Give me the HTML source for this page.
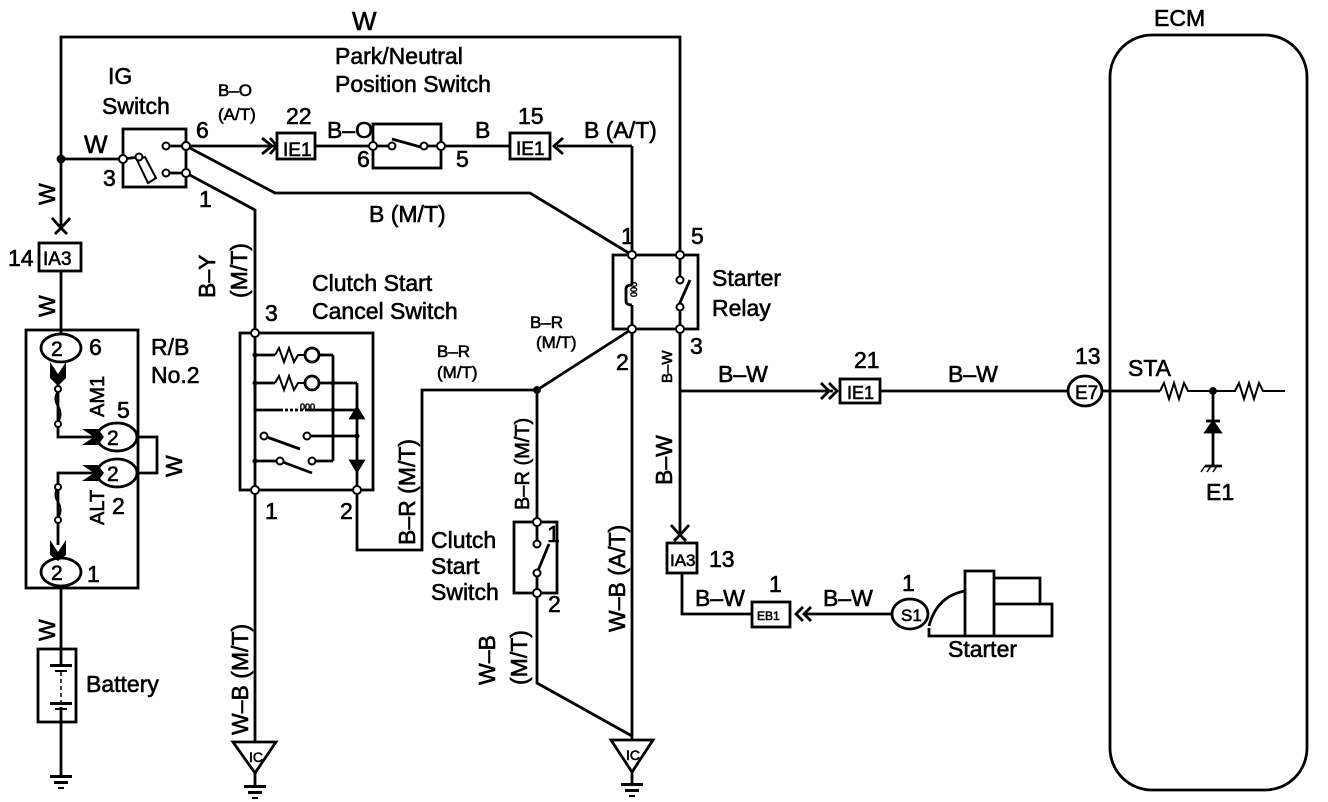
<!DOCTYPE html>
<html><head><meta charset="utf-8"><style>
html,body{margin:0;padding:0;background:#fff}
svg{display:block}
text{font-family:"Liberation Sans",sans-serif;fill:#000;stroke:#000;stroke-width:0.6}
</style></head><body>
<svg width="1328" height="802" viewBox="0 0 1328 802" xmlns="http://www.w3.org/2000/svg">
<g fill="none" stroke="#000" stroke-width="2.8" stroke-linejoin="miter">
<polyline points="61,228 61,37 680,37 680,255"/>
<line x1="61" y1="159" x2="123" y2="159"/>
<circle cx="61" cy="159" r="3" fill="#000"/>
<polyline points="52,218 61,228 70,218"/>
<line x1="55" y1="234" x2="61" y2="228"/><line x1="67" y1="234" x2="61" y2="228"/>
<rect x="39" y="243" width="42" height="28"/>
<line x1="61" y1="271" x2="61" y2="333"/>
<rect x="123" y="129" width="63" height="58"/>
<line x1="186" y1="146" x2="166" y2="146"/>
<line x1="186" y1="173" x2="166" y2="173"/>
<line x1="123" y1="159" x2="139" y2="157"/>
<polygon points="137,160 145,157 156,178 148,183" stroke-width="2"/>
<line x1="186" y1="146" x2="276" y2="146"/>
<polyline points="262,138 272,146 262,154"/>
<line x1="270" y1="138" x2="277" y2="146"/><line x1="270" y1="154" x2="277" y2="146"/>
<rect x="277" y="133" width="38" height="26"/>
<line x1="315" y1="146" x2="373" y2="146"/>
<rect x="373" y="124" width="68" height="44"/>
<line x1="373" y1="146" x2="392" y2="146"/>
<line x1="392" y1="139" x2="424" y2="148"/>
<line x1="424" y1="146" x2="441" y2="146"/>
<line x1="441" y1="146" x2="510" y2="146"/>
<rect x="510" y="133" width="40" height="26"/>
<polyline points="563,138 554,146 563,154"/>
<line x1="557" y1="146" x2="632" y2="146"/>
<line x1="632" y1="146" x2="632" y2="255"/>
<polyline points="186,146 275,193 530,193 632,255"/>
<polyline points="186,173 255,210 255,332"/>
<rect x="613" y="255" width="85" height="74"/>
<line x1="632" y1="255" x2="632" y2="285"/>
<line x1="632" y1="305" x2="632" y2="329"/>
<path d="M632,285 q-6,0 -6,4 v12 q0,4 6,4" />
<line x1="680" y1="255" x2="680" y2="280"/>
<line x1="678" y1="307" x2="690" y2="280"/>
<line x1="680" y1="307" x2="680" y2="329"/>
<line x1="632" y1="329" x2="632" y2="740"/>
<line x1="680" y1="329" x2="680" y2="535"/>
<polyline points="671,525 680,535 689,525"/>
<line x1="674" y1="541" x2="680" y2="535"/><line x1="686" y1="541" x2="680" y2="535"/>
<rect x="667" y="543" width="30" height="30"/>
<polyline points="682,573 682,614 752,614"/>
<rect x="752" y="602" width="38" height="25"/>
<polyline points="803,607 796,614 803,621"/><polyline points="811,607 804,614 811,621"/>
<line x1="804" y1="614" x2="893" y2="614"/>
<ellipse cx="910" cy="614" rx="18" ry="15"/>
<path d="M929,626 q8,-30 36,-35"/>
<polyline points="929,628 929,636 1052,636 1052,604 1040,604 1040,578 994,578 994,571 965,571 965,636"/>
<line x1="994" y1="578" x2="994" y2="636"/>
<line x1="994" y1="604" x2="1040" y2="604"/>
<line x1="680" y1="391" x2="833" y2="391"/>
<polyline points="821,383 829,391 821,399"/><polyline points="829,383 837,391 829,399"/>
<rect x="840" y="379" width="40" height="24"/>
<line x1="880" y1="391" x2="1068" y2="391"/>
<ellipse cx="1085" cy="391" rx="17" ry="15"/>
<rect x="1110" y="35" width="197" height="755" rx="42" ry="42"/>
<line x1="1102" y1="391" x2="1160" y2="391"/>
<polyline points="1160,391 1164,383 1169,399 1174,383 1179,399 1184,383 1188,391 1235,391 1239,383 1244,399 1249,383 1254,399 1259,383 1263,391 1285,391" stroke-width="2"/>
<circle cx="1213" cy="391" r="2.5" fill="#000"/>
<line x1="1213" y1="391" x2="1213" y2="465"/>
<polygon points="1206,432 1220,432 1213,422" fill="#000"/>
<line x1="1206" y1="421" x2="1220" y2="421"/>
<line x1="1205" y1="466" x2="1222" y2="466"/>
<line x1="1205" y1="466" x2="1201" y2="472" stroke-width="1.5"/><line x1="1211" y1="466" x2="1207" y2="472" stroke-width="1.5"/><line x1="1217" y1="466" x2="1213" y2="472" stroke-width="1.5"/>
<rect x="240" y="333" width="133" height="157"/>
<line x1="255" y1="333" x2="255" y2="742"/>
<line x1="255" y1="355" x2="275" y2="355"/>
<polyline points="275,355 279,348 284,362 289,348 294,362 298,355 305,355" stroke-width="2"/>
<circle cx="312" cy="355" r="7"/>
<line x1="319" y1="355" x2="333" y2="355"/>
<line x1="255" y1="383" x2="275" y2="383"/>
<polyline points="275,383 279,376 284,390 289,376 294,390 298,383 305,383" stroke-width="2"/>
<circle cx="312" cy="383" r="7"/>
<line x1="319" y1="383" x2="357" y2="383"/>
<polyline points="255,383 255,410 280,410"/>
<line x1="280" y1="410" x2="305" y2="410" stroke-dasharray="3,2"/>
<line x1="305" y1="410" x2="357" y2="410"/>
<line x1="333" y1="355" x2="333" y2="461"/>
<line x1="357" y1="383" x2="357" y2="490"/>
<polygon points="351,418 363,418 357,408" fill="#000"/>
<polygon points="351,461 363,461 357,471" fill="#000"/>
<line x1="264" y1="436" x2="300" y2="449"/>
<line x1="307" y1="436" x2="357" y2="436"/>
<line x1="255" y1="461" x2="277" y2="461"/>
<line x1="280" y1="461" x2="312" y2="473"/>
<line x1="312" y1="461" x2="333" y2="461"/>
<polyline points="357,490 357,550 422,550 422,390 537,390 632,329"/>
<circle cx="537" cy="390" r="2.5" fill="#000"/>
<line x1="537" y1="390" x2="537" y2="522"/>
<rect x="514" y="522" width="43" height="71"/>
<line x1="537" y1="522" x2="537" y2="544"/>
<line x1="537" y1="573" x2="549" y2="544"/>
<line x1="537" y1="573" x2="537" y2="593"/>
<polyline points="537,593 537,683 632,736"/>
<polygon points="233,742 276,742 255,773"/>
<line x1="255" y1="773" x2="255" y2="785"/>
<polygon points="611,740 653,740 632,772"/>
<line x1="632" y1="772" x2="632" y2="783"/>
<rect x="26" y="330" width="112" height="258"/>
<ellipse cx="61" cy="348" rx="20" ry="14"/>
<ellipse cx="117" cy="437" rx="20" ry="14"/>
<ellipse cx="117" cy="473" rx="20" ry="14"/>
<ellipse cx="61" cy="572" rx="20" ry="14"/>
<polyline points="137,437 157,437 157,473 137,473"/>
<polyline points="58,378 58,437 94,437"/>
<path d="M58,391 q-5,8 0,15 q5,8 0,16" stroke-width="2"/>
<polyline points="94,473 58,473 58,545"/>
<path d="M58,487 q-5,8 0,15 q5,8 0,16" stroke-width="2"/>
<line x1="61" y1="587" x2="61" y2="649"/>
<rect x="38" y="649" width="38" height="73"/>
<line x1="61" y1="649" x2="61" y2="665"/>
<line x1="61" y1="672" x2="61" y2="702" stroke-dasharray="4,3" stroke-width="1.5"/>
<line x1="61" y1="707" x2="61" y2="775"/>
</g>
<g fill="#000" stroke="none">
<g fill="#fff" stroke="#000" stroke-width="2">
<circle cx="123" cy="159" r="4"/><circle cx="186" cy="146" r="4"/><circle cx="186" cy="173" r="4"/>
<circle cx="166" cy="146" r="3.5"/><circle cx="166" cy="173" r="3.5"/><circle cx="139" cy="157" r="3.5"/>
<circle cx="373" cy="146" r="4"/><circle cx="441" cy="146" r="4"/><circle cx="392" cy="146" r="3.5"/><circle cx="424" cy="146" r="3.5"/>
<circle cx="632" cy="255" r="4"/><circle cx="680" cy="255" r="4"/><circle cx="632" cy="329" r="4"/><circle cx="680" cy="329" r="4"/>
<circle cx="680" cy="280" r="3.5"/><circle cx="680" cy="307" r="3.5"/>
<circle cx="255" cy="333" r="4"/><circle cx="255" cy="490" r="4"/><circle cx="357" cy="490" r="4"/>
<circle cx="264" cy="436" r="3.5"/><circle cx="307" cy="436" r="3.5"/><circle cx="280" cy="461" r="3.5"/><circle cx="312" cy="461" r="3.5"/>
<circle cx="537" cy="522" r="4"/><circle cx="537" cy="593" r="4"/><circle cx="537" cy="544" r="3.5"/><circle cx="537" cy="573" r="3.5"/>
<circle cx="58" cy="389" r="3"/><circle cx="58" cy="424" r="3"/><circle cx="58" cy="487" r="3"/><circle cx="58" cy="520" r="3"/>
</g>
<circle cx="255" cy="355" r="2.5"/><circle cx="255" cy="383" r="2.5"/><circle cx="333" cy="383" r="2.5"/><circle cx="333" cy="410" r="2.5"/><circle cx="357" cy="436" r="2.5"/><circle cx="255" cy="461" r="2.5"/>
<polygon points="50,362 58,374 66,362 66,378 58,386 50,378"/>
<polygon points="82,429 94,437 82,445 98,445 104,437 98,429"/>
<polygon points="82,465 94,473 82,481 98,481 104,473 98,465"/>
<polygon points="50,540 58,552 66,540 66,555 58,561 50,555"/>
<rect x="50" y="664" width="22" height="3"/><rect x="55" y="670" width="12" height="2"/>
<rect x="50" y="702" width="22" height="3"/><rect x="55" y="708" width="12" height="2"/>
<rect x="50" y="775" width="22" height="3"/><rect x="54" y="781" width="14" height="3"/><rect x="58" y="787" width="6" height="2"/>
<rect x="244" y="785" width="22" height="3"/><rect x="248" y="791" width="14" height="3"/><rect x="252" y="797" width="6" height="2"/>
<rect x="621" y="783" width="22" height="3"/><rect x="625" y="789" width="14" height="3"/><rect x="629" y="795" width="6" height="2"/>
</g>
<g font-size="23">
<text x="352" y="30" font-size="26">W</text>
<text x="1154" y="26">ECM</text>
<text x="108" y="84">IG</text>
<text x="102" y="114">Switch</text>
<text x="335" y="64">Park/Neutral</text>
<text x="335" y="92">Position Switch</text>
<text x="84" y="153" font-size="25">W</text>
<text x="103" y="186">3</text>
<text x="196" y="138">6</text>
<text x="199" y="207">1</text>
<text x="218" y="96" font-size="17">B–O</text>
<text x="218" y="120" font-size="17">(A/T)</text>
<text x="286" y="124">22</text>
<text x="327" y="138">B–O</text>
<text x="357" y="167">6</text>
<text x="456" y="167">5</text>
<text x="475" y="138">B</text>
<text x="518" y="124">15</text>
<text x="584" y="138">B  (A/T)</text>
<text x="369" y="222">B  (M/T)</text>
<text x="621" y="244">1</text>
<text x="691" y="244">5</text>
<text x="712" y="286">Starter</text>
<text x="712" y="316">Relay</text>
<text x="616" y="370">2</text>
<text x="690" y="354">3</text>
<text x="265" y="321">3</text>
<text x="312" y="291">Clutch Start</text>
<text x="312" y="319">Cancel Switch</text>
<text x="265" y="519">1</text>
<text x="340" y="519">2</text>
<text x="530" y="328" font-size="17">B–R</text>
<text x="536" y="348" font-size="17">(M/T)</text>
<text x="437" y="357" font-size="17">B–R</text>
<text x="437" y="378" font-size="17">(M/T)</text>
<text x="547" y="542">1</text>
<text x="548" y="612">2</text>
<text x="431" y="548">Clutch</text>
<text x="431" y="574">Start</text>
<text x="431" y="600">Switch</text>
<text x="8" y="266">14</text>
<text x="43" y="265" font-size="19">IA3</text>
<text x="283" y="156" font-size="19">IE1</text>
<text x="516" y="155" font-size="19">IE1</text>
<text x="847" y="399" font-size="18">IE1</text>
<text x="670" y="566" font-size="17">IA3</text>
<text x="709" y="567">13</text>
<text x="757" y="620" font-size="12">EB1</text>
<text x="769" y="592">1</text>
<text x="695" y="606">B–W</text>
<text x="823" y="606">B–W</text>
<text x="902" y="591">1</text>
<text x="901" y="621" font-size="17">S1</text>
<text x="948" y="657">Starter</text>
<text x="718" y="382">B–W</text>
<text x="854" y="368">21</text>
<text x="948" y="382">B–W</text>
<text x="1075" y="364">13</text>
<text x="1075" y="399" font-size="19">E7</text>
<text x="1128" y="376">STA</text>
<text x="1206" y="500">E1</text>
<text x="89" y="355">6</text>
<text x="117" y="418">5</text>
<text x="112" y="514">2</text>
<text x="87" y="582">1</text>
<text x="51" y="356" font-size="21">2</text>
<text x="107" y="445" font-size="21">2</text>
<text x="107" y="481" font-size="21">2</text>
<text x="51" y="580" font-size="21">2</text>
<text x="151" y="355">R/B</text>
<text x="151" y="383">No.2</text>
<text x="86" y="692">Battery</text>
<text x="249" y="762" font-size="14">IC</text>
<text x="626" y="760" font-size="14">IC</text>
</g>
<g font-size="23">
<text transform="translate(55,205) rotate(-90)">W</text>
<text transform="translate(55,317) rotate(-90)">W</text>
<text transform="translate(55,641) rotate(-90)">W</text>
<text transform="translate(182,477) rotate(-90)">W</text>
<text transform="translate(104,417) rotate(-90)" font-size="20">AM1</text>
<text transform="translate(104,525) rotate(-90)" font-size="20">ALT</text>
<text transform="translate(215,298) rotate(-90)">B–Y</text>
<text transform="translate(247,298) rotate(-90)">(M/T)</text>
<text transform="translate(415,545) rotate(-90)">B–R (M/T)</text>
<text transform="translate(529,510) rotate(-90)" font-size="20">B–R (M/T)</text>
<text transform="translate(248,735) rotate(-90)">W–B (M/T)</text>
<text transform="translate(495,685) rotate(-90)">W–B</text>
<text transform="translate(527,685) rotate(-90)">(M/T)</text>
<text transform="translate(625,632) rotate(-90)">W–B  (A/T)</text>
<text transform="translate(672,383) rotate(-90)" font-size="15">B–W</text>
<text transform="translate(672,485) rotate(-90)">B–W</text>
<text transform="translate(637,297) rotate(-90)" font-size="9">000</text>
<text transform="translate(300,410)" font-size="9">000</text>
</g>
</svg>
</body></html>
